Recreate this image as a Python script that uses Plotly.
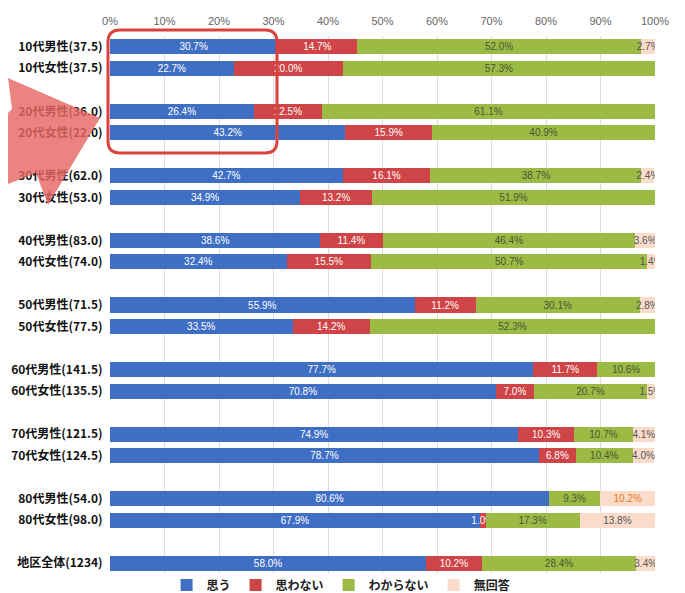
import plotly.graph_objects as go

# ---------------- data ----------------
categories = [
    "10代男性(37.5)", "10代女性(37.5)",
    "20代男性(36.0)", "20代女性(22.0)",
    "30代男性(62.0)", "30代女性(53.0)",
    "40代男性(83.0)", "40代女性(74.0)",
    "50代男性(71.5)", "50代女性(77.5)",
    "60代男性(141.5)", "60代女性(135.5)",
    "70代男性(121.5)", "70代女性(124.5)",
    "80代男性(54.0)", "80代女性(98.0)",
    "地区全体(1234)",
]
omou =      [30.7, 22.7, 26.4, 43.2, 42.7, 34.9, 38.6, 32.4, 55.9, 33.5, 77.7, 70.8, 74.9, 78.7, 80.6, 67.9, 58.0]
omowanai =  [14.7, 20.0, 12.5, 15.9, 16.1, 13.2, 11.4, 15.5, 11.2, 14.2, 11.7, 7.0, 10.3, 6.8, 0.0, 1.0, 10.2]
wakaranai = [52.0, 57.3, 61.1, 40.9, 38.7, 51.9, 46.4, 50.7, 30.1, 52.3, 10.6, 20.7, 10.7, 10.4, 9.3, 17.3, 28.4]
mukaitou =  [2.7, 0.0, 0.0, 0.0, 2.4, 0.0, 3.6, 1.4, 2.8, 0.0, 0.0, 1.5, 4.1, 4.0, 10.2, 13.8, 3.4]
series_names = ["思う", "思わない", "わからない", "無回答"]
tick_vals = [0, 10, 20, 30, 40, 50, 60, 70, 80, 90, 100]

# ---------------- styling ----------------
colors = ["#3F6FC4", "#CF4446", "#9BBB45", "#FBDCCB"]
num_font = "Liberation Sans, Arial, sans-serif"
cjk_font = "Noto Sans CJK JP, sans-serif"

# category order with blank spacer rows between age groups
y_order = []
for i, c in enumerate(categories):
    y_order.append(c)
    if i % 2 == 1:
        y_order.append(" " * (i // 2 + 1))


def labels(vals):
    return [f"{v:.1f}%" if v > 0 else "" for v in vals]


fig = go.Figure()
series = [omou, omowanai, wakaranai, mukaitou]
text_colors = [
    ["white"] * len(categories),
    ["white"] * len(categories),
    ["#4A5535"] * len(categories),
    ["#E8791E" if c.startswith("80代男性") else "#555555" for c in categories],
]
for name, vals, col, tcol in zip(series_names, series, colors, text_colors):
    fig.add_trace(go.Bar(
        name=name, y=categories, x=vals, orientation="h",
        marker=dict(color=col, line=dict(width=0)),
        text=labels(vals), textposition="inside", insidetextanchor="middle",
        textangle=0, constraintext="none",
        textfont=dict(family=num_font, size=10, color=tcol),
        hoverinfo="skip",
    ))

# page has an 8px body margin -> figure is offset by 8px
OFF = 8
W, H = 685 - OFF, 593 - OFF
# plot area in page pixels
PL, PR, PT, PB = 110, 655, 36, 574
L, R, T, B = PL - OFF, W - (PR - OFF), PT - OFF, H - (PB - OFF)
PW, PH = PR - PL, PB - PT


def px(x):
    return (x - PL) / PW


def py(y):
    return (PB - y) / PH


# rounded rectangle highlight (page pixels)
x0, x1, y0, y1, r = 108, 277, 30, 153, 12
rx, ry = r / PW, r / PH
a, b_, c_, d = px(x0), px(x1), py(y0), py(y1)
rect_path = (
    f"M {a+rx},{c_} L {b_-rx},{c_} Q {b_},{c_} {b_},{c_-ry} "
    f"L {b_},{d+ry} Q {b_},{d} {b_-rx},{d} "
    f"L {a+rx},{d} Q {a},{d} {a},{d+ry} "
    f"L {a},{c_-ry} Q {a},{c_} {a+rx},{c_} Z"
)
arrow_pts = [(0, 78), (100, 118), (48, 205), (36, 173), (0, 184), (0, 113), (12, 109)]
arrow_path = "M " + " L ".join(f"{px(max(x, OFF))},{py(max(y, OFF))}" for x, y in arrow_pts) + " Z"

fig.update_layout(
    barmode="stack",
    bargap=0.3,
    width=W, height=H,
    margin=dict(l=L, r=R, t=T, b=B, autoexpand=False),
    paper_bgcolor="white", plot_bgcolor="white",
    font=dict(family=cjk_font, color="#222222"),
    xaxis=dict(
        side="top", range=[0, 100], tickvals=tick_vals,
        ticktext=[f"{v}%" for v in tick_vals],
        showgrid=True, gridcolor="#DCDCDC", gridwidth=1, zeroline=False,
        showline=False, ticks="outside", ticklen=6, tickcolor="rgba(0,0,0,0)",
        tickfont=dict(family=num_font, size=11, color="#666666"),
        fixedrange=True,
    ),
    yaxis=dict(
        type="category", categoryorder="array", categoryarray=y_order,
        autorange="reversed", showgrid=False, zeroline=False,
        ticks="outside", ticklen=4, tickcolor="rgba(0,0,0,0)",
        tickfont=dict(family=cjk_font, size=12, color="#111111", weight="bold"),
    ),
    legend=dict(
        orientation="h", x=0.424, xanchor="center", y=py(585), yanchor="middle",
        font=dict(family=cjk_font, size=12, color="#222222", weight="bold"),
        itemwidth=30, traceorder="normal", bgcolor="rgba(0,0,0,0)",
    ),
    shapes=[
        dict(type="path", path=arrow_path, xref="paper", yref="paper",
             fillcolor="rgba(230,105,100,0.82)", line=dict(width=0), layer="above"),
        dict(type="path", path=rect_path, xref="paper", yref="paper",
             line=dict(color="#D8433C", width=3), fillcolor="rgba(0,0,0,0)", layer="above"),
    ],
)

fig.write_html("out.html")
